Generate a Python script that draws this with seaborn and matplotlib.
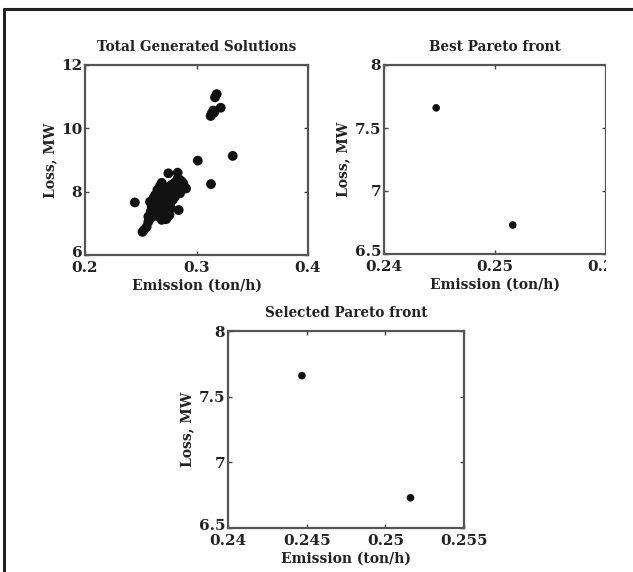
import matplotlib
matplotlib.use("Agg")
import matplotlib.pyplot as plt
import matplotlib.transforms as mtransforms
import seaborn as sns
import pandas as pd
from matplotlib.lines import Line2D
from matplotlib.patches import Rectangle

# ---------------- data ----------------
pareto_emission = [0.2447, 0.2516]
pareto_loss = [7.66, 6.73]

cluster_emission = [
    0.2553, 0.2568, 0.2589, 0.2613, 0.2637, 0.2598, 0.2583, 0.2613, 0.2628, 0.2649,
    0.2673, 0.2688, 0.2658, 0.2673, 0.2688, 0.2703, 0.2727, 0.2739, 0.2757, 0.2718,
    0.2703, 0.2697, 0.2709, 0.2727, 0.2739, 0.2763, 0.2787, 0.2807, 0.2828, 0.2852,
    0.2867, 0.2882, 0.2888, 0.2852, 0.2822, 0.2792, 0.2778, 0.2757, 0.2739, 0.2727,
    0.2763, 0.2778, 0.2807, 0.2837, 0.2748, 0.2718, 0.2688, 0.2667, 0.2643, 0.2628,
    0.2649, 0.2673, 0.2748, 0.2831, 0.2906, 0.2840, 0.2703, 0.2733, 0.2769, 0.2787,
    0.2807, 0.2822, 0.2688, 0.2658, 0.2619, 0.2589, 0.2568, 0.2852, 0.2876, 0.2798,
    0.2529,
]
cluster_loss = [
    6.89, 7.05, 7.16, 7.26, 7.37, 7.53, 7.68, 7.79, 7.89, 8.05,
    8.18, 8.28, 7.63, 7.47, 7.32, 7.21, 7.13, 7.19, 7.26, 7.42,
    7.58, 7.74, 7.89, 8.00, 8.10, 8.18, 8.24, 8.28, 8.39, 8.37,
    8.32, 8.26, 8.16, 8.10, 8.05, 8.00, 7.89, 7.79, 7.68, 7.79,
    7.63, 8.05, 8.16, 8.21, 7.95, 8.10, 8.00, 7.84, 7.68, 7.53,
    7.32, 7.74, 8.58, 8.60, 8.10, 7.42, 7.37, 7.53, 7.47, 7.74,
    7.84, 7.95, 7.11, 7.21, 7.61, 7.37, 7.21, 7.95, 8.10, 8.10,
    6.79,
]
outlier_emission = [0.3011, 0.3325, 0.3130, 0.3181, 0.3166, 0.3217, 0.3151, 0.3136, 0.3127, 0.3157]
outlier_loss = [8.98, 9.13, 8.24, 11.08, 10.98, 10.65, 10.56, 10.47, 10.39, 10.49]

titles = ["Total Generated Solutions", "Best Pareto front", "Selected Pareto front"]
xlabel = "Emission (ton/h)"
ylabel = "Loss, MW"

ax1_xticks = [0.2, 0.3, 0.4]
ax1_xticklabels = ["0.2", "0.3", "0.4"]
ax1_yticks = [6, 8, 10, 12]
ax2_xticks = [0.24, 0.25, 0.26]
ax2_xticklabels = ["0.24", "0.25", "0.26"]
ax3_xticks = [0.24, 0.245, 0.25, 0.255]
ax3_xticklabels = ["0.24", "0.245", "0.25", "0.255"]
pareto_yticks = [6.5, 7, 7.5, 8]
pareto_yticklabels = ["6.5", "7", "7.5", "8"]

# ---------------- style ----------------
sns.set_style("white")
plt.rcParams["font.family"] = ["DejaVu Serif", "DejaVu Sans"]
plt.rcParams["font.weight"] = "bold"
plt.rcParams["axes.labelweight"] = "bold"
plt.rcParams["axes.titleweight"] = "bold"

W, H = 633, 572
fig = plt.figure(figsize=(W / 100, H / 100), dpi=100)
fig.patch.set_facecolor("white")


def make_ax(l, t, r, b):
    return fig.add_axes([l / W, 1 - b / H, (r - l) / W, (b - t) / H])


ax1 = make_ax(85, 65, 308, 255)
ax2 = make_ax(384, 65, 606, 254)
ax3 = make_ax(228, 331, 464, 528)

all_df = pd.DataFrame({
    "Emission": pareto_emission + cluster_emission + outlier_emission,
    "Loss": pareto_loss + cluster_loss + outlier_loss,
})
par_df = pd.DataFrame({"Emission": pareto_emission, "Loss": pareto_loss})

sns.scatterplot(data=all_df, x="Emission", y="Loss", ax=ax1, color="#111111",
                s=50, edgecolor="none", linewidth=0, zorder=3)
sns.scatterplot(data=par_df, x="Emission", y="Loss", ax=ax2, color="#111111",
                s=30, edgecolor="none", linewidth=0, zorder=3)
sns.scatterplot(data=par_df, x="Emission", y="Loss", ax=ax3, color="#111111",
                s=30, edgecolor="none", linewidth=0, zorder=3)

ax1.set_xlim(0.2, 0.4)
ax1.set_ylim(6, 12)
ax1.set_xticks(ax1_xticks)
ax1.set_xticklabels(ax1_xticklabels)
ax1.set_yticks(ax1_yticks)
ax1.set_yticklabels([str(v) for v in ax1_yticks])

ax2.set_xlim(0.24, 0.26)
ax2.set_ylim(6.5, 8)
ax2.set_xticks(ax2_xticks)
ax2.set_xticklabels(ax2_xticklabels)
ax2.set_yticks(pareto_yticks)
ax2.set_yticklabels(pareto_yticklabels)

ax3.set_xlim(0.24, 0.255)
ax3.set_ylim(6.5, 8)
ax3.set_xticks(ax3_xticks)
ax3.set_xticklabels(ax3_xticklabels)
ax3.set_yticks(pareto_yticks)
ax3.set_yticklabels(pareto_yticklabels)

for ax, title in zip([ax1, ax2, ax3], titles):
    ax.set_title(title, fontsize=9.8, fontweight="bold", pad=10)
    ax.set_xlabel(xlabel, fontsize=10, fontweight="bold", labelpad=3)
    ax.set_ylabel(ylabel, fontsize=10, fontweight="bold", labelpad=3)
    for sp in ax.spines.values():
        sp.set_visible(True)
        sp.set_color("#555555")
        sp.set_linewidth(1.6)
    ax.tick_params(direction="in", length=3, width=1, color="#444444",
                   top=True, right=True, bottom=True, left=True,
                   labelsize=11)
    ax.tick_params(axis="x", pad=4)
    ax.tick_params(axis="y", pad=2)
    for lab in ax.get_xticklabels() + ax.get_yticklabels():
        lab.set_fontweight("bold")
        lab.set_color("#222222")
    # lowest y tick label nudged up a little so it clears the x tick labels
    low = ax.yaxis.get_major_ticks()[0].label1
    low.set_transform(low.get_transform() +
                      mtransforms.ScaledTranslation(0, 3.5 / 100, fig.dpi_scale_trans))
    ax.xaxis.label.set_color("#222222")
    ax.yaxis.label.set_color("#222222")
    ax.title.set_color("#222222")

# crop effect on right side, then outer frame
fig.patches.append(Rectangle((606 / W, 0), 1 - 606 / W, 1 - 11 / H,
                             transform=fig.transFigure, facecolor="white",
                             edgecolor="none", zorder=10))
fig.lines.append(Line2D([4 / W, 1], [1 - 9 / H, 1 - 9 / H], transform=fig.transFigure,
                        color="#222222", linewidth=2.2, zorder=11))
fig.lines.append(Line2D([4 / W, 4 / W], [0, 1 - 9 / H], transform=fig.transFigure,
                        color="#222222", linewidth=2.2, zorder=11))

fig.savefig("out.png", dpi=100, facecolor="white")
